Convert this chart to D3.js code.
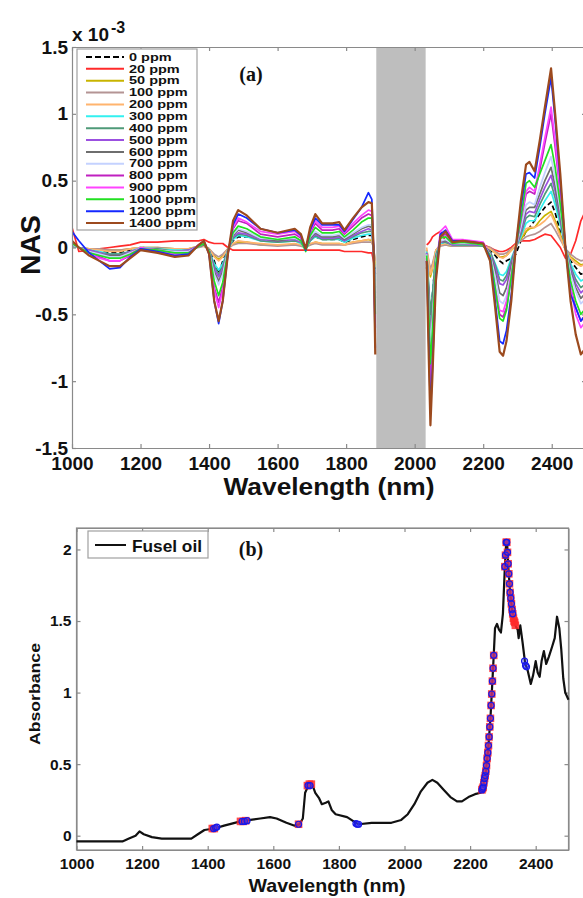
<!DOCTYPE html>
<html><head><meta charset="utf-8">
<script src="https://cdn.jsdelivr.net/npm/d3@7"></script>
<style>body{margin:0;background:#fff}svg{display:block}text{font-family:Arial,"Liberation Sans",sans-serif;font-weight:bold;fill:#111}</style>
</head><body><svg id="c" width="583" height="898"></svg>
<script>
// ---------- DATA: panel (a) NAS (x 1e-3) ----------
const wl1 = [1000,1020,1050,1080,1110,1140,1170,1200,1250,1300,1340,1370,1385,1400,1415,1428,1440,1455,1470,1485,1510,1550,1600,1650,1668,1682,1695,1710,1730,1760,1780,1795,1820,1845,1865,1875,1880,1885];
const wl2 = [2035,2040,2046,2052,2062,2075,2090,2110,2140,2170,2200,2220,2235,2248,2258,2268,2282,2295,2310,2325,2335,2350,2365,2380,2398,2410,2425,2440,2455,2470,2485,2500];
const concLabels = ["0 ppm","20 ppm","50 ppm","100 ppm","200 ppm","300 ppm","400 ppm","500 ppm","600 ppm","700 ppm","800 ppm","900 ppm","1000 ppm","1200 ppm","1400 ppm"];
const concColors = ["#000000","#ff2a2a","#c8b400","#b49494","#ffb46e","#33f0f0","#4f9a78","#9b50e0","#6e6e6e","#c4d2ff","#c020c0","#ff44ff","#22e022","#1428ff","#9c4a1e"];

const nas0A = [0.01,0.0,-0.02,-0.03,-0.04,-0.04,-0.02,0.0,-0.01,-0.02,-0.02,0.01,0.01,-0.01,-0.1,-0.2,-0.1,-0.01,0.05,0.08,0.08,0.06,0.05,0.06,0.05,0.0,0.06,0.08,0.06,0.06,0.06,0.04,0.06,0.08,0.09,0.09,0.0,-0.2];
const nas20A = [0.15,-0.03,-0.02,-0.01,0.0,0.01,0.02,0.04,0.04,0.05,0.05,0.05,0.06,0.04,0.03,0.03,0.03,0.0,-0.02,-0.02,-0.02,-0.02,-0.02,-0.02,-0.02,-0.02,-0.02,-0.02,-0.02,-0.02,-0.02,-0.03,-0.03,-0.03,-0.04,-0.04,-0.1,-0.2];
const nas50A = [0.01,0.0,-0.01,-0.02,-0.02,-0.02,-0.01,0.0,0.0,-0.01,-0.01,0.01,0.01,-0.01,-0.06,-0.09,-0.06,-0.01,0.03,0.04,0.04,0.02,0.02,0.02,0.02,0.0,0.02,0.04,0.03,0.03,0.03,0.02,0.04,0.05,0.06,0.05,0.0,-0.13];
const nas100A = [0.01,0.0,-0.01,-0.01,-0.02,-0.02,-0.01,0.0,0.0,-0.01,-0.01,0.0,0.01,-0.01,-0.05,-0.07,-0.05,-0.01,0.02,0.03,0.03,0.02,0.01,0.02,0.01,0.0,0.02,0.03,0.02,0.02,0.02,0.02,0.03,0.04,0.04,0.04,0.0,-0.1];
const nas200A = [0.01,0.0,-0.01,-0.02,-0.03,-0.03,-0.01,0.0,-0.01,-0.01,-0.01,0.01,0.01,-0.01,-0.07,-0.1,-0.07,-0.01,0.03,0.05,0.04,0.03,0.02,0.03,0.02,0.0,0.03,0.04,0.03,0.03,0.03,0.02,0.04,0.05,0.06,0.06,0.0,-0.15];
const nas300A = [0.01,0.0,-0.02,-0.03,-0.05,-0.05,-0.03,0.0,-0.01,-0.02,-0.02,0.01,0.02,-0.02,-0.12,-0.17,-0.12,-0.02,0.06,0.09,0.08,0.05,0.04,0.05,0.03,-0.01,0.05,0.08,0.06,0.06,0.06,0.04,0.07,0.09,0.1,0.1,0.0,-0.25];
const nas400A = [0.02,0.0,-0.02,-0.04,-0.05,-0.05,-0.03,-0.01,-0.01,-0.03,-0.02,0.01,0.02,-0.02,-0.14,-0.2,-0.14,-0.02,0.07,0.1,0.09,0.05,0.04,0.05,0.04,-0.01,0.05,0.09,0.06,0.06,0.07,0.05,0.08,0.11,0.12,0.12,0.0,-0.3];
const nas500A = [0.02,0.0,-0.02,-0.04,-0.06,-0.06,-0.03,-0.01,-0.02,-0.03,-0.02,0.01,0.02,-0.02,-0.16,-0.22,-0.16,-0.02,0.08,0.11,0.1,0.06,0.05,0.06,0.04,-0.01,0.06,0.1,0.07,0.07,0.08,0.05,0.09,0.12,0.14,0.13,0.0,-0.34];
const nas600A = [0.02,0.0,-0.03,-0.05,-0.06,-0.06,-0.04,-0.01,-0.02,-0.03,-0.03,0.01,0.02,-0.02,-0.18,-0.25,-0.18,-0.02,0.09,0.13,0.11,0.07,0.05,0.07,0.05,-0.01,0.07,0.11,0.08,0.08,0.09,0.06,0.1,0.14,0.16,0.15,0.0,-0.38];
const nas700A = [0.02,0.0,-0.03,-0.05,-0.07,-0.07,-0.04,-0.01,-0.02,-0.03,-0.03,0.01,0.03,-0.03,-0.2,-0.28,-0.2,-0.02,0.1,0.14,0.12,0.07,0.06,0.07,0.05,-0.01,0.08,0.12,0.09,0.09,0.1,0.07,0.11,0.15,0.17,0.17,0.0,-0.42];
const nas800A = [0.04,0.0,-0.04,-0.07,-0.1,-0.1,-0.06,-0.01,-0.03,-0.05,-0.04,0.02,0.04,-0.04,-0.3,-0.41,-0.3,-0.04,0.14,0.2,0.18,0.1,0.08,0.1,0.07,-0.01,0.11,0.18,0.13,0.13,0.14,0.1,0.16,0.22,0.25,0.24,0.0,-0.6];
const nas900A = [0.03,0.0,-0.04,-0.08,-0.1,-0.1,-0.05,0.0,-0.02,-0.05,-0.04,0.02,0.04,-0.04,-0.32,-0.45,-0.32,-0.04,0.15,0.22,0.19,0.12,0.1,0.12,0.08,-0.02,0.12,0.2,0.15,0.15,0.16,0.11,0.18,0.24,0.28,0.27,0.0,-0.65];
const nas1000A = [0.03,0.0,-0.04,-0.06,-0.08,-0.08,-0.05,-0.01,-0.02,-0.04,-0.04,0.01,0.03,-0.03,-0.25,-0.36,-0.26,-0.03,0.11,0.16,0.14,0.08,0.06,0.08,0.05,-0.03,0.09,0.15,0.11,0.11,0.12,0.08,0.13,0.19,0.22,0.22,0.0,-0.5];
const nas1200A = [0.12,0.05,-0.04,-0.1,-0.16,-0.15,-0.07,-0.01,-0.03,-0.06,-0.05,0.02,0.05,-0.05,-0.4,-0.57,-0.4,-0.05,0.17,0.25,0.22,0.14,0.11,0.13,0.09,-0.02,0.13,0.22,0.17,0.17,0.17,0.12,0.21,0.3,0.41,0.36,0.0,-0.75];
const nas1400A = [0.05,0.0,-0.06,-0.1,-0.14,-0.14,-0.08,-0.02,-0.04,-0.07,-0.06,0.02,0.05,-0.05,-0.4,-0.55,-0.4,-0.05,0.2,0.28,0.24,0.14,0.11,0.14,0.1,-0.01,0.15,0.25,0.18,0.18,0.19,0.13,0.22,0.3,0.34,0.33,0.0,-0.8];

const nas0B = [-0.15,-0.3,-0.5,-0.35,-0.05,0.03,0.03,0.02,0.02,0.02,0.01,-0.02,-0.06,-0.1,-0.12,-0.1,-0.08,-0.05,0.05,0.12,0.15,0.2,0.25,0.3,0.34,0.26,0.12,-0.02,-0.1,-0.15,-0.2,-0.18];
const nas20B = [0.02,0.03,0.05,0.08,0.1,0.12,0.05,0.03,0.02,0.02,0.02,0.0,-0.02,-0.03,-0.03,-0.02,0.0,0.03,0.05,0.05,0.05,0.06,0.08,0.1,0.09,0.05,0.0,-0.08,-0.05,0.05,0.2,0.28];
const nas50B = [-0.02,-0.1,-0.22,-0.16,-0.02,0.02,0.02,0.01,0.01,0.01,0.01,-0.01,-0.04,-0.07,-0.07,-0.06,-0.02,0.01,0.06,0.12,0.14,0.15,0.2,0.24,0.27,0.2,0.1,-0.02,-0.07,-0.1,-0.13,-0.12];
const nas100B = [-0.02,-0.08,-0.16,-0.12,-0.02,0.01,0.02,0.01,0.01,0.01,0.01,0.0,-0.03,-0.05,-0.05,-0.04,-0.01,0.02,0.05,0.08,0.09,0.1,0.12,0.15,0.18,0.13,0.06,-0.01,-0.05,-0.08,-0.1,-0.09];
const nas200B = [0.0,-0.1,-0.2,-0.15,-0.02,0.02,0.03,0.02,0.02,0.02,0.01,-0.01,-0.04,-0.07,-0.08,-0.06,-0.02,0.02,0.08,0.14,0.15,0.15,0.17,0.2,0.25,0.18,0.08,-0.02,-0.08,-0.12,-0.14,-0.12];
const nas300B = [-0.03,-0.25,-0.6,-0.35,-0.05,0.03,0.04,0.02,0.02,0.02,0.01,-0.03,-0.12,-0.2,-0.21,-0.18,-0.08,0.0,0.08,0.18,0.2,0.2,0.28,0.35,0.42,0.32,0.17,0.0,-0.12,-0.2,-0.25,-0.23];
const nas400B = [-0.04,-0.25,-0.5,-0.35,-0.06,0.04,0.04,0.02,0.02,0.02,0.01,-0.03,-0.13,-0.24,-0.25,-0.21,-0.1,0.0,0.1,0.22,0.24,0.23,0.32,0.4,0.48,0.37,0.2,0.0,-0.14,-0.24,-0.3,-0.27];
const nas500B = [-0.04,-0.28,-0.8,-0.5,-0.08,0.04,0.05,0.02,0.03,0.02,0.02,-0.04,-0.15,-0.27,-0.28,-0.24,-0.12,0.0,0.12,0.25,0.27,0.26,0.36,0.45,0.54,0.42,0.22,0.0,-0.16,-0.27,-0.34,-0.3];
const nas600B = [-0.05,-0.3,-0.65,-0.45,-0.08,0.05,0.05,0.03,0.03,0.03,0.02,-0.04,-0.18,-0.34,-0.36,-0.3,-0.14,0.0,0.14,0.28,0.3,0.3,0.4,0.5,0.6,0.46,0.24,0.0,-0.18,-0.3,-0.38,-0.34];
const nas700B = [-0.05,-0.35,-0.75,-0.52,-0.1,0.05,0.06,0.03,0.03,0.03,0.02,-0.05,-0.22,-0.4,-0.42,-0.36,-0.18,0.0,0.15,0.32,0.34,0.32,0.45,0.56,0.68,0.52,0.28,0.0,-0.2,-0.33,-0.42,-0.38];
const nas800B = [-0.08,-0.45,-1.0,-0.72,-0.15,0.08,0.1,0.04,0.05,0.04,0.03,-0.07,-0.32,-0.5,-0.52,-0.45,-0.22,0.0,0.2,0.4,0.42,0.4,0.58,0.78,1.0,0.75,0.4,0.0,-0.3,-0.45,-0.55,-0.5];
const nas900B = [-0.08,-0.5,-1.1,-0.8,-0.15,0.12,0.16,0.06,0.06,0.05,0.04,-0.06,-0.3,-0.47,-0.48,-0.4,-0.2,0.0,0.22,0.42,0.45,0.42,0.62,0.82,1.05,0.8,0.42,0.0,-0.3,-0.5,-0.6,-0.55];
const nas1000B = [-0.06,-0.4,-0.87,-0.62,-0.12,0.07,0.08,0.03,0.04,0.03,0.02,-0.06,-0.3,-0.53,-0.55,-0.47,-0.22,0.0,0.22,0.48,0.5,0.45,0.55,0.65,0.77,0.6,0.32,0.0,-0.25,-0.4,-0.5,-0.45];
const nas1200B = [-0.1,-0.6,-1.22,-0.9,-0.22,0.1,0.13,0.05,0.05,0.04,0.03,-0.08,-0.4,-0.7,-0.72,-0.62,-0.35,0.0,0.3,0.55,0.56,0.52,0.75,1.0,1.27,0.95,0.5,0.0,-0.35,-0.45,-0.55,-0.5];
const nas1400B = [-0.1,-0.7,-1.33,-0.95,-0.25,0.08,0.12,0.04,0.05,0.04,0.03,-0.1,-0.45,-0.78,-0.81,-0.7,-0.4,0.0,0.35,0.62,0.64,0.57,0.8,1.05,1.34,1.0,0.55,0.0,-0.4,-0.65,-0.8,-0.75];

const excludedBand = [1888, 2032];
const nasYTicks = [-1.5,-1,-0.5,0,0.5,1,1.5];
const wlTicks = [1000,1200,1400,1600,1800,2000,2200,2400];

// ---------- DATA: panel (b) Fusel oil absorbance ----------
const fuselWl = [1000,1140,1160,1180,1192,1205,1230,1260,1300,1350,1370,1390,1420,1450,1500,1530,1560,1590,1610,1640,1665,1680,1690,1697,1705,1712,1720,1728,1740,1748,1760,1768,1778,1790,1825,1845,1860,1900,1960,1990,2010,2030,2050,2070,2085,2100,2120,2140,2160,2175,2195,2215,2232,2240,2248,2255,2262,2268,2272,2276,2282,2288,2294,2300,2306,2310,2313,2317,2322,2328,2334,2340,2345,2348,2353,2360,2368,2375,2385,2392,2400,2406,2412,2418,2425,2432,2440,2450,2458,2465,2472,2478,2484,2490,2500];
const fuselAbs = [-0.04,-0.04,-0.02,0.0,0.03,0.01,-0.01,-0.02,-0.02,-0.02,0.01,0.04,0.05,0.07,0.1,0.11,0.12,0.13,0.12,0.09,0.07,0.08,0.12,0.3,0.34,0.36,0.35,0.3,0.26,0.22,0.23,0.24,0.18,0.15,0.13,0.1,0.08,0.09,0.09,0.11,0.15,0.22,0.31,0.37,0.39,0.37,0.32,0.27,0.24,0.24,0.27,0.29,0.3,0.34,0.45,0.6,0.82,1.08,1.26,1.45,1.48,1.44,1.42,1.55,1.88,2.05,2.04,1.86,1.7,1.58,1.5,1.46,1.44,1.38,1.47,1.35,1.2,1.16,1.06,1.12,1.22,1.14,1.11,1.22,1.29,1.2,1.25,1.32,1.38,1.53,1.45,1.3,1.1,1.0,0.95];
const selRedWl = [1414,1420,1500,1508,1516,1677,1704,1710,1716,2236,2238,2240,2242,2244,2246,2248,2250,2252,2254,2256,2258,2260,2262,2264,2266,2268,2270,2272,2306,2308,2310,2312,2314,2316,2318,2320,2322,2324,2326,2328,2330,2332,2334,2336,2338];
const selRedAbs = [0.05,0.05,0.1,0.1,0.105,0.08,0.35,0.36,0.36,0.32,0.33,0.34,0.37,0.4,0.42,0.45,0.49,0.54,0.58,0.63,0.69,0.76,0.82,0.91,0.99,1.08,1.17,1.26,1.88,1.96,2.05,2.05,1.98,1.9,1.83,1.76,1.7,1.66,1.62,1.58,1.55,1.52,1.5,1.49,1.47];
const selBlueWl = [1418,1424,1428,1505,1512,1520,1677,1706,1712,1852,1856,1860,2236,2238,2240,2242,2244,2246,2248,2250,2252,2254,2256,2258,2260,2262,2264,2266,2268,2270,2272,2306,2308,2310,2312,2314,2316,2318,2320,2322,2324,2326,2328,2330,2366,2369,2372];
const selBlueAbs = [0.05,0.055,0.06,0.1,0.1,0.105,0.08,0.35,0.35,0.085,0.08,0.08,0.32,0.33,0.34,0.37,0.4,0.42,0.45,0.49,0.54,0.58,0.63,0.69,0.76,0.82,0.91,0.99,1.08,1.17,1.26,1.88,1.96,2.05,2.05,1.98,1.9,1.83,1.76,1.7,1.66,1.62,1.58,1.55,1.22,1.19,1.18];
const absYTicks = [0,0.5,1,1.5,2];

// ---------- DRAW ----------
const svg = d3.select("#c");
const axisCol = "#8a8a8a";
const serif = "'Liberation Serif','DejaVu Serif',serif";
const segA = [nas0A,nas20A,nas50A,nas100A,nas200A,nas300A,nas400A,nas500A,nas600A,nas700A,nas800A,nas900A,nas1000A,nas1200A,nas1400A];
const segB = [nas0B,nas20B,nas50B,nas100B,nas200B,nas300B,nas400B,nas500B,nas600B,nas700B,nas800B,nas900B,nas1000B,nas1200B,nas1400B];

// Panel (a)
const xa = d3.scaleLinear([1000,2500],[72,586]);
const ya = d3.scaleLinear([-1.5,1.5],[448,47]);
svg.append("clipPath").attr("id","clipA").append("rect")
  .attr("x",xa(1000)).attr("y",ya(1.5)).attr("width",xa(2500)-xa(1000)).attr("height",ya(-1.5)-ya(1.5));
const gA = svg.append("g");
gA.append("rect").attr("x",xa(excludedBand[0])).attr("y",ya(1.5))
  .attr("width",xa(excludedBand[1])-xa(excludedBand[0])).attr("height",ya(-1.5)-ya(1.5)).attr("fill","#bebebe");
const lineA = d3.line().x(d=>xa(d[0])).y(d=>ya(d[1]));
const linesG = gA.append("g").attr("clip-path","url(#clipA)");
concLabels.forEach((lab,i)=>{
  [[wl1,segA[i]],[wl2,segB[i]]].forEach(([w,v])=>{
    linesG.append("path").datum(d3.zip(w,v)).attr("d",lineA).attr("fill","none")
      .attr("stroke",concColors[i]).attr("stroke-width", i===14?2.2:1.7)
      .attr("stroke-dasharray", i===0?"5,3":null).attr("stroke-linejoin","round");
  });
});
function styleAxis(g, fs){
  g.select(".domain").attr("stroke",axisCol).attr("stroke-width",1.2);
  g.selectAll(".tick line").attr("stroke",axisCol).attr("stroke-width",1.2);
  g.selectAll(".tick text").attr("font-size",fs).attr("fill","#111").attr("font-weight","bold");
}
const fmt = d=>String(d);
styleAxis(gA.append("g").attr("transform",`translate(0,${ya(-1.5)})`)
  .call(d3.axisBottom(xa).tickValues(wlTicks).tickFormat(fmt).tickSizeInner(-4).tickSizeOuter(0).tickPadding(9)),19);
styleAxis(gA.append("g").attr("transform",`translate(0,${ya(1.5)})`)
  .call(d3.axisTop(xa).tickValues(wlTicks).tickFormat("").tickSizeInner(-4).tickSizeOuter(0)),19);
styleAxis(gA.append("g").attr("transform",`translate(${xa(1000)},0)`)
  .call(d3.axisLeft(ya).tickValues(nasYTicks).tickFormat(fmt).tickSizeInner(-4).tickSizeOuter(0).tickPadding(4)),19);
styleAxis(gA.append("g").attr("transform",`translate(${xa(2500)},0)`)
  .call(d3.axisRight(ya).tickValues(nasYTicks).tickFormat("").tickSizeInner(-4).tickSizeOuter(0)),19);

// exponent label
svg.append("text").attr("x",72).attr("y",41).attr("font-size",19).text("x 10");
svg.append("text").attr("x",111).attr("y",33).attr("font-size",16).text("-3");
// axis titles
svg.append("text").attr("x",329).attr("y",495).attr("text-anchor","middle").attr("font-size",24)
  .attr("textLength",211).attr("lengthAdjust","spacingAndGlyphs").text("Wavelength (nm)");
svg.append("text").attr("transform","translate(40,245) rotate(-90)").attr("text-anchor","middle").attr("font-size",27)
  .attr("textLength",60).attr("lengthAdjust","spacingAndGlyphs").text("NAS");
svg.append("text").attr("x",251).attr("y",81).attr("text-anchor","middle").attr("font-size",20)
  .style("font-family",serif).text("(a)");
// legend (a)
const legA = svg.append("g");
legA.append("rect").attr("x",77).attr("y",49).attr("width",120).attr("height",181)
  .attr("fill","#fff").attr("stroke","#a0a0a0").attr("stroke-width",1.2);
concLabels.forEach((lab,i)=>{
  const yy = 57 + i*11.86;
  legA.append("line").attr("x1",86).attr("x2",124).attr("y1",yy).attr("y2",yy)
    .attr("stroke",concColors[i]).attr("stroke-width",2).attr("stroke-dasharray",i===0?"6,3":null);
  legA.append("text").attr("transform",`translate(129,${yy+3.7}) scale(1.45,1)`).attr("font-size",10).text(lab);
});

// Panel (b)
const xb = d3.scaleLinear([1000,2500],[76.5,568.5]);
const yb = d3.scaleLinear([-0.1,2.15],[850,528]);
const gB = svg.append("g");
gB.append("rect").attr("x",xb(1000)).attr("y",yb(2.15)).attr("width",xb(2500)-xb(1000)).attr("height",yb(-0.1)-yb(2.15))
  .attr("fill","none").attr("stroke",axisCol).attr("stroke-width",1.2);
styleAxis(gB.append("g").attr("transform",`translate(0,${yb(-0.1)})`)
  .call(d3.axisBottom(xb).tickValues(wlTicks).tickFormat(fmt).tickSizeInner(-4).tickSizeOuter(0).tickPadding(8)),15.5);
styleAxis(gB.append("g").attr("transform",`translate(0,${yb(2.15)})`)
  .call(d3.axisTop(xb).tickValues(wlTicks).tickFormat("").tickSizeInner(-4).tickSizeOuter(0)),15.5);
styleAxis(gB.append("g").attr("transform",`translate(${xb(1000)},0)`)
  .call(d3.axisLeft(yb).tickValues(absYTicks).tickFormat(fmt).tickSizeInner(-4).tickSizeOuter(0).tickPadding(5)),15.5);
styleAxis(gB.append("g").attr("transform",`translate(${xb(2500)},0)`)
  .call(d3.axisRight(yb).tickValues(absYTicks).tickFormat("").tickSizeInner(-4).tickSizeOuter(0)),15.5);
const lineB = d3.line().x(d=>xb(d[0])).y(d=>yb(d[1]));
gB.append("path").datum(d3.zip(fuselWl,fuselAbs)).attr("d",lineB).attr("fill","none")
  .attr("stroke","#111").attr("stroke-width",2.2).attr("stroke-linejoin","round");
gB.append("g").selectAll("rect").data(d3.zip(selRedWl,selRedAbs)).join("rect")
  .attr("x",d=>xb(d[0])-3.8).attr("y",d=>yb(d[1])-3.8).attr("width",7.6).attr("height",7.6)
  .attr("fill","#ff2a2a").attr("fill-opacity",0.85);
gB.append("g").selectAll("circle").data(d3.zip(selBlueWl,selBlueAbs)).join("circle")
  .attr("cx",d=>xb(d[0])).attr("cy",d=>yb(d[1])).attr("r",3)
  .attr("fill","#3a3aff").attr("fill-opacity",0.3).attr("stroke","#1818e8").attr("stroke-width",1.2);
// legend (b)
const legB = svg.append("g");
legB.append("rect").attr("x",88).attr("y",531).attr("width",120).attr("height",27)
  .attr("fill","#fff").attr("stroke","#a0a0a0").attr("stroke-width",1.2);
legB.append("line").attr("x1",95).attr("x2",126).attr("y1",545).attr("y2",545).attr("stroke","#111").attr("stroke-width",2);
legB.append("text").attr("x",132).attr("y",551.5).attr("font-size",16.5)
  .attr("textLength",70).attr("lengthAdjust","spacingAndGlyphs").text("Fusel oil");
svg.append("text").attr("x",251).attr("y",556).attr("text-anchor","middle").attr("font-size",20)
  .style("font-family",serif).text("(b)");
svg.append("text").attr("x",327).attr("y",892).attr("text-anchor","middle").attr("font-size",18.5)
  .attr("textLength",157).attr("lengthAdjust","spacingAndGlyphs").text("Wavelength (nm)");
svg.append("text").attr("transform","translate(40,694) rotate(-90)").attr("text-anchor","middle").attr("font-size",14.5)
  .attr("textLength",102).attr("lengthAdjust","spacingAndGlyphs").text("Absorbance");
</script></body></html>
